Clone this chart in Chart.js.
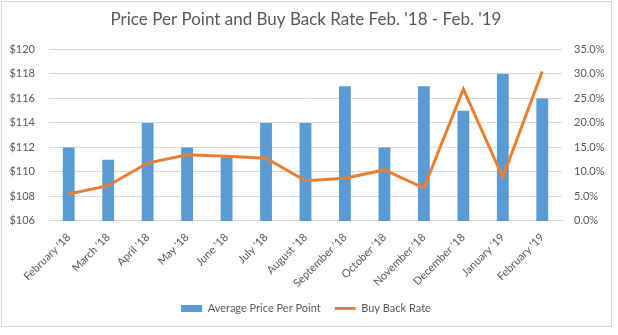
<!DOCTYPE html>
<html>
<head>
<meta charset="utf-8">
<script src="https://cdn.jsdelivr.net/npm/chart.js@4/dist/chart.umd.min.js"></script>
<style>
  html, body { margin: 0; padding: 0; background: #fff; }
  #wrap { width: 618px; height: 335px; }
</style>
</head>
<body>
<div id="wrap"><canvas id="chart" width="618" height="335"></canvas></div>
<script>
// data
const months = ["February '18", "March '18", "April '18", "May '18", "June '18", "July '18",
  "August '18", "September '18", "October '18", "November '18", "December '18", "January '19", "February '19"];
const avgPrice = [112, 111, 114, 112, 111.2, 114, 114, 117, 112, 117, 115, 118, 116];
const buyBackRate = [0.055, 0.072, 0.118, 0.135, 0.132, 0.128, 0.082, 0.087, 0.104, 0.067, 0.269, 0.089, 0.305];

const priceTicks = { min: 106, max: 120, step: 2 };
const rateTicks = { min: 0, max: 0.35, step: 0.05 };

const gray = '#595959';
const font = { family: 'Lato', size: 11 };

// white background + thin frame like the excel chart
const frame = {
  id: 'frame',
  beforeDraw(chart) {
    const ctx = chart.ctx;
    ctx.save();
    ctx.fillStyle = '#fff';
    ctx.fillRect(0, 0, chart.width, chart.height);
    ctx.strokeStyle = '#d9d9d9';
    ctx.lineWidth = 1;
    ctx.strokeRect(1.5, 1.5, 610, 325);
    ctx.restore();
  }
};

new Chart(document.getElementById('chart'), {
  type: 'bar',
  data: {
    labels: months,
    datasets: [
      {
        label: 'Average Price Per Point',
        data: avgPrice,
        backgroundColor: '#5B9BD5',
        yAxisID: 'y',
        order: 1,
        categoryPercentage: 1,
        barPercentage: 0.3
      },
      {
        type: 'line',
        label: 'Buy Back Rate',
        data: buyBackRate,
        borderColor: '#ED7D31',
        backgroundColor: '#ED7D31',
        borderWidth: 3,
        pointRadius: 0,
        tension: 0,
        yAxisID: 'y1',
        order: 0
      }
    ]
  },
  options: {
    responsive: false,
    animation: false,
    layout: { padding: { left: 0, right: 6, top: 4, bottom: 11 } },
    plugins: {
      title: {
        display: true,
        text: "Price Per Point and Buy Back Rate Feb. '18 - Feb. '19",
        color: gray,
        font: { family: 'Lato', size: 17, weight: 'normal' },
        padding: { top: 5, bottom: 20 }
      },
      legend: {
        position: 'bottom',
        labels: {
          color: gray,
          font: font,
          usePointStyle: true,
          pointStyleWidth: 21,
          boxHeight: 7,
          padding: 14,
          generateLabels(chart) {
            const items = Chart.defaults.plugins.legend.labels.generateLabels(chart);
            items.sort((a, b) => a.datasetIndex - b.datasetIndex);
            items.forEach(it => {
              if (it.datasetIndex === 0) {
                it.pointStyle = 'rect';
                it.lineWidth = 0;
              } else {
                it.pointStyle = 'line';
                it.lineWidth = 3;
                it.strokeStyle = '#ED7D31';
              }
            });
            return items;
          }
        }
      },
      tooltip: { enabled: false }
    },
    scales: {
      x: {
        afterFit(s) { s.height = s.height - 3; },
        grid: { display: false },
        border: { color: '#d9d9d9' },
        ticks: { color: gray, font: font, minRotation: 45, maxRotation: 45, padding: 2 }
      },
      y: {
        position: 'left',
        min: priceTicks.min,
        max: priceTicks.max,
        afterFit(s) { s.width = 49; },
        grid: { color: '#d9d9d9', drawTicks: false },
        border: { display: false },
        ticks: {
          stepSize: priceTicks.step,
          color: gray,
          font: font,
          padding: 14,
          callback: v => '$' + v
        }
      },
      y1: {
        position: 'right',
        min: rateTicks.min,
        max: rateTicks.max,
        afterFit(s) { s.width = 50; },
        grid: { display: false, drawTicks: false },
        border: { display: false },
        ticks: {
          stepSize: rateTicks.step,
          color: gray,
          font: font,
          padding: 12,
          callback: v => (v * 100).toFixed(1) + '%'
        }
      }
    }
  },
  plugins: [frame]
});
</script>
</body>
</html>
